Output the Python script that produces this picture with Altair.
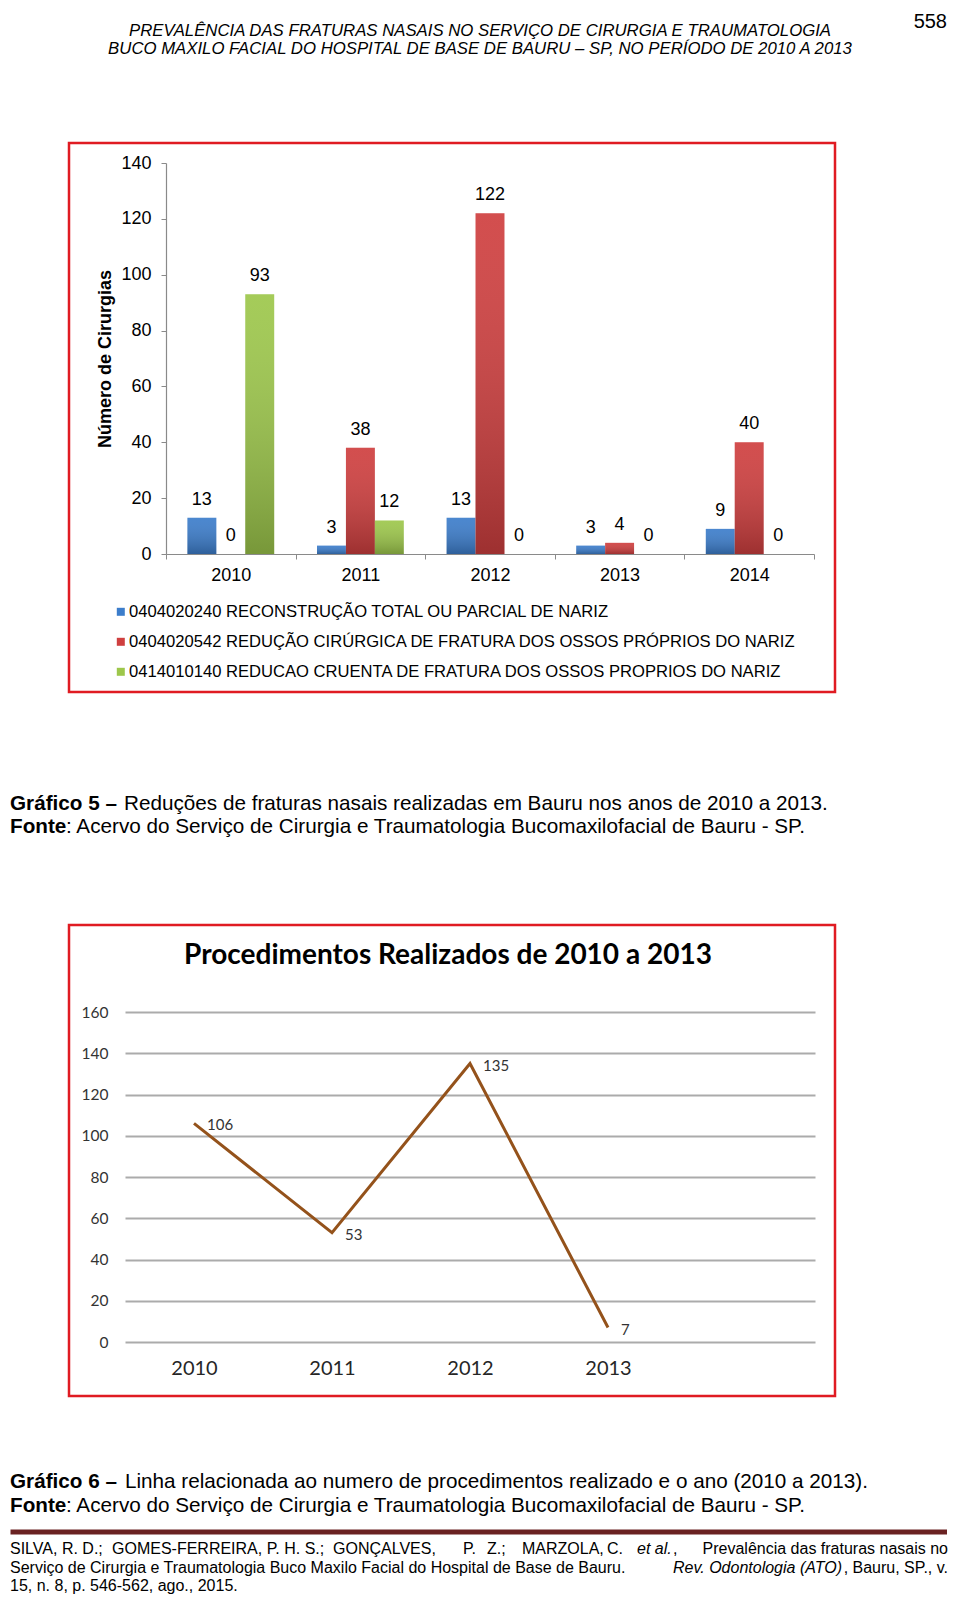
import altair as alt
import pandas as pd

# ---------------- data ----------------
anos_barras = ["2010", "2011", "2012", "2013", "2014"]
series_nomes = [
    "0404020240 RECONSTRUÇÃO TOTAL OU PARCIAL DE NARIZ",
    "0404020542 REDUÇÃO CIRÚRGICA DE FRATURA DOS OSSOS PRÓPRIOS DO NARIZ",
    "0414010140 REDUCAO CRUENTA DE FRATURA DOS OSSOS PROPRIOS DO NARIZ",
]
reconstrucao = [13, 3, 13, 3, 9]
reducao_cirurgica = [0, 38, 122, 4, 40]
reducao_cruenta = [93, 12, 0, 0, 0]
eixo_y_barras = [0, 20, 40, 60, 80, 100, 120, 140]

anos_linha = [2010, 2011, 2012, 2013]
procedimentos = [106, 53, 135, 7]
eixo_y_linha = [0, 20, 40, 60, 80, 100, 120, 140, 160]

cores = ["#3C7DCB", "#CF3F3F", "#9DC74B"]

# ---------------- tables ----------------
valores = [reconstrucao, reducao_cirurgica, reducao_cruenta]
df_bar = pd.DataFrame(
    [{"ano": a, "serie": s, "valor": v[i]}
     for s, v in zip(series_nomes, valores)
     for i, a in enumerate(anos_barras)]
)
df_line = pd.DataFrame({"ano": anos_linha, "valor": procedimentos})
ONE = pd.DataFrame({"k": [0]})

SANS = "'Liberation Sans', Arial, sans-serif"
LATO = "Lato, Carlito, Calibri, sans-serif"


def texto(t, x, y, size, font=SANS, weight="normal", style="normal",
          align="left", color="#000"):
    return alt.Chart(ONE).mark_text(
        text=t, font=font, fontSize=size, fontWeight=weight, fontStyle=style,
        align=align, baseline="middle", color=color
    ).encode(x=alt.value(x), y=alt.value(y))


def moldura(x1, x2, y1, y2):
    return alt.Chart(ONE).mark_rect(
        fillOpacity=0, stroke="#E01B22", strokeWidth=2.5
    ).encode(x=alt.value(x1), x2=alt.value(x2), y=alt.value(y1), y2=alt.value(y2))


# ---------------- bar chart (cell A) ----------------
x_enc = alt.X(
    "ano:N", sort=anos_barras,
    scale=alt.Scale(range=[41, 689], paddingInner=0, paddingOuter=0),
    axis=alt.Axis(title=None, labelAngle=0, labelFont=SANS, labelFontSize=18,
                  labelColor="#000", labelPadding=7, tickBand="extent",
                  tickSize=5, tickColor="#8A8A8A", domainColor="#8A8A8A",
                  domainWidth=1.2),
)
xo_enc = alt.XOffset("serie:N", sort=series_nomes,
                     scale=alt.Scale(paddingInner=0, paddingOuter=0.74))
y_enc = alt.Y(
    "valor:Q", scale=alt.Scale(domain=[0, 140], nice=False),
    axis=alt.Axis(values=eixo_y_barras, offset=-41, grid=False,
                  title="Número de Cirurgias", titleFont=SANS, titleFontSize=18,
                  titleFontWeight="bold", titleColor="#000", titlePadding=6,
                  labelFont=SANS, labelFontSize=18, labelColor="#000",
                  labelPadding=10, tickSize=5, tickColor="#8A8A8A",
                  domainColor="#8A8A8A", domainWidth=1.2),
)

bars = alt.Chart(df_bar).mark_bar().encode(
    x=x_enc, xOffset=xo_enc, y=y_enc,
    color=alt.Color(
        "serie:N", sort=series_nomes,
        scale=alt.Scale(domain=series_nomes, range=cores),
        legend=alt.Legend(orient="none", legendX=-12.5, legendY=440.5,
                          direction="vertical", title=None, symbolType="square",
                          symbolSize=64, symbolStrokeWidth=0, labelFont=SANS,
                          labelFontSize=16.6, labelColor="#000", labelLimit=900,
                          rowPadding=13, labelOffset=0, padding=0),
    ),
)

sombra = alt.Chart(df_bar).mark_bar(
    color=alt.Gradient(
        gradient="linear", x1=0, x2=0, y1=0, y2=1,
        stops=[alt.GradientStop(color="rgba(255,255,255,0.08)", offset=0),
               alt.GradientStop(color="rgba(0,0,0,0.24)", offset=1)],
    )
).encode(x=alt.X("ano:N", sort=anos_barras), xOffset=alt.XOffset("serie:N", sort=series_nomes),
         y="valor:Q")

rotulos_barras = alt.Chart(df_bar).mark_text(
    font=SANS, fontSize=18, baseline="middle", dy=-18, color="#000"
).encode(x=alt.X("ano:N", sort=anos_barras),
         xOffset=alt.XOffset("serie:N", sort=series_nomes),
         y="valor:Q", text="valor:Q")

ancora = alt.Chart(ONE).mark_rule(strokeOpacity=0, strokeWidth=1).encode(
    x=alt.value(300), x2=alt.value(301), y=alt.value(-154.5))

cabecalho = [
    texto("558", 822, -141, 20, align="right"),
    texto("PREVALÊNCIA DAS FRATURAS NASAIS NO SERVIÇO DE CIRURGIA E TRAUMATOLOGIA",
          355, -132, 16.75, style="italic", align="center"),
    texto("BUCO MAXILO FACIAL DO HOSPITAL DE BASE DE BAURU – SP, NO PERÍODO DE 2010 A 2013",
          355, -114, 16.75, style="italic", align="center"),
]
legenda5 = [
    texto("Gráfico 5 –", -115, 641, 20.7, weight="bold"),
    texto("Reduções de fraturas nasais realizadas em Bauru nos anos de 2010 a 2013.",
          -1, 641, 20.7),
    texto("Fonte", -115, 664, 20.7, weight="bold"),
    texto(": Acervo do Serviço de Cirurgia e Traumatologia Bucomaxilofacial de Bauru - SP.",
          -59, 664, 20.7),
]

cellA = alt.layer(
    moldura(-56, 710, -20, 529), ancora, bars, sombra, rotulos_barras,
    *cabecalho, *legenda5
).properties(width=690, height=391)

# ---------------- line chart (cell B) ----------------
linha = alt.Chart(df_line).mark_line(color="#94521B", strokeWidth=3).encode(
    x=alt.X("ano:Q", scale=alt.Scale(domain=[2009.5, 2014.5], nice=False, zero=False),
            axis=alt.Axis(values=anos_linha, format="d", title=None, grid=False,
                          domain=False, ticks=False, tickSize=0, labelFont=LATO,
                          labelFontSize=20, labelColor="#262626", labelPadding=16)),
    y=alt.Y("valor:Q", scale=alt.Scale(domain=[0, 160], nice=False),
            axis=alt.Axis(values=eixo_y_linha, title=None, grid=True,
                          gridColor="#ABABAB", gridWidth=1.8, domain=False,
                          ticks=False, tickSize=0, labelFont=LATO,
                          labelFontSize=15.5, labelColor="#333",
                          labelPadding=17)),
)
rotulos_linha = alt.Chart(df_line).mark_text(
    font=LATO, fontSize=15, align="left", baseline="middle", dx=13, dy=2,
    color="#333"
).encode(x="ano:Q", y="valor:Q", text="valor:Q")

titulo = texto("Procedimentos Realizados de 2010 a 2013", 323, -56, 28,
               font=LATO, weight="bold", align="center")
legenda6 = [
    texto("Gráfico 6 –", -115, 470, 20.7, weight="bold"),
    texto("Linha relacionada ao numero de procedimentos realizado e o ano (2010 a 2013).",
          0, 470, 20.7),
    texto("Fonte", -115, 494, 20.7, weight="bold"),
    texto(": Acervo do Serviço de Cirurgia e Traumatologia Bucomaxilofacial de Bauru - SP.",
          -59, 494, 20.7),
]
rodape_linha = alt.Chart(ONE).mark_rule(color="#6A2222", strokeWidth=5).encode(
    x=alt.value(-114.5), x2=alt.value(822), y=alt.value(520))
F = 16
rodape = [
    texto("SILVA, R. D.;", -115, 537, F),
    texto("GOMES-FERREIRA, P. H. S.;", -13, 537, F),
    texto("GONÇALVES,", 208, 537, F),
    texto("P.", 338, 537, F),
    texto("Z.;", 362, 537, F),
    texto("MARZOLA,", 397, 537, F),
    texto("C.", 482, 537, F),
    texto("et al.", 512, 537, F, style="italic"),
    texto(",", 548, 537, F),
    texto("Prevalência das fraturas nasais no", 823, 537, F, align="right"),
    texto("Serviço de Cirurgia e Traumatologia Buco Maxilo Facial do Hospital de Base de Bauru.",
          -115, 556, F),
    texto("Rev. Odontologia (ATO)", 548, 556, F, style="italic"),
    texto(", Bauru, SP., v.", 823, 556, F, align="right"),
    texto("15, n. 8, p. 546-562, ago., 2015.", -115, 574, F),
]

cellB = alt.layer(
    moldura(-56, 710, -87, 384), linha, rotulos_linha, titulo,
    *legenda6, rodape_linha, *rodape
).properties(width=690, height=330)

chart = alt.vconcat(cellA, cellB, spacing=458, bounds="flush").properties(
    padding=0
).configure_view(strokeWidth=0)

chart.save("out.html", embed_options={"renderer": "svg", "actions": False})
